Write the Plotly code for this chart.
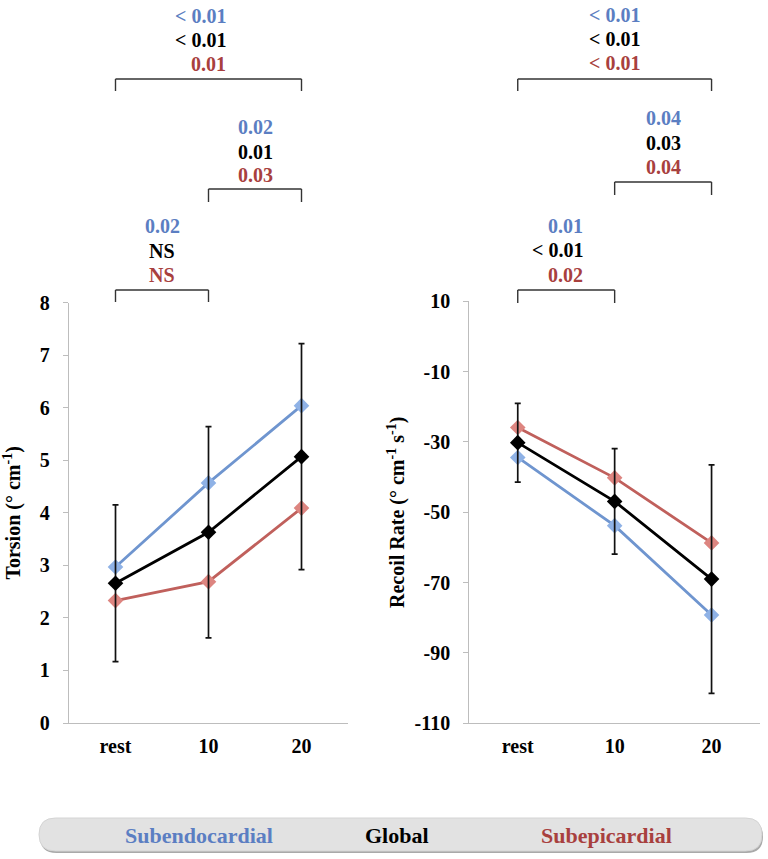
import plotly.graph_objects as go

# ---------------------------------------------------------------------------
# Data
# ---------------------------------------------------------------------------

categories = ["rest", "10", "20"]

torsion_endo = [2.97, 4.57, 6.04]
torsion_global = [2.66, 3.63, 5.07]
torsion_epi = [2.33, 2.69, 4.09]
torsion_global_sd = [1.49, 2.01, 2.15]

recoil_endo = [-34.4, -53.8, -79.2]
recoil_global = [-30.2, -46.9, -69.0]
recoil_epi = [-25.9, -40.2, -58.7]
recoil_global_sd = [11.2, 15.0, 32.5]

recoil_ticks = [10, -10, -30, -50, -70, -90, -110]

# p-values per comparison: [subendocardial, global, subepicardial]
torsion_p_rest_20 = ["< 0.01", "< 0.01", "0.01"]
torsion_p_10_20 = ["0.02", "0.01", "0.03"]
torsion_p_rest_10 = ["0.02", "NS", "NS"]
recoil_p_rest_20 = ["< 0.01", "< 0.01", "< 0.01"]
recoil_p_10_20 = ["0.04", "0.03", "0.04"]
recoil_p_rest_10 = ["0.01", "< 0.01", "0.02"]

legend_labels = ["Subendocardial", "Global", "Subepicardial"]

# ---------------------------------------------------------------------------
# Style
# ---------------------------------------------------------------------------

W, H = 768, 859
FONT = "Liberation Serif, Times New Roman, serif"

BLUE_LINE = "#6f95cf"
BLUE_MARK = "#8fb2e6"
RED_LINE = "#c0605c"
RED_MARK = "#dd8580"
BLUE_TEXT = "#5b7ec2"
RED_TEXT = "#a8403e"
BLACK = "#000000"
AXIS = "#bdbdbd"
TEXT_COLORS = [BLUE_TEXT, BLACK, RED_TEXT]


def px_x(x):
    return x / W


def px_y(y):
    return 1 - y / H


fig = go.Figure()


def add_panel(xa, ya, endo, glob, epi, sd):
    fig.add_trace(go.Scatter(
        x=categories, y=endo, xaxis=xa, yaxis=ya, mode="lines+markers",
        line=dict(color=BLUE_LINE, width=2.8),
        marker=dict(symbol="diamond", size=12, color=BLUE_MARK),
        showlegend=False,
    ))
    fig.add_trace(go.Scatter(
        x=categories, y=epi, xaxis=xa, yaxis=ya, mode="lines+markers",
        line=dict(color=RED_LINE, width=2.8),
        marker=dict(symbol="diamond", size=12, color=RED_MARK),
        showlegend=False,
    ))
    fig.add_trace(go.Scatter(
        x=categories, y=glob, xaxis=xa, yaxis=ya, mode="lines+markers",
        line=dict(color=BLACK, width=2.8),
        marker=dict(symbol="diamond", size=12, color=BLACK),
        error_y=dict(type="data", array=sd, visible=True,
                     color="#111111", thickness=1.7, width=3),
        showlegend=False,
    ))


add_panel("x", "y", torsion_endo, torsion_global, torsion_epi, torsion_global_sd)
add_panel("x2", "y2", recoil_endo, recoil_global, recoil_epi, recoil_global_sd)

tick_font = dict(family=FONT, size=20, color=BLACK, weight="bold")

common_x = dict(
    type="category", range=[-0.5, 2.5], showline=True, linecolor=AXIS,
    linewidth=1.3, ticks="", showgrid=False, zeroline=False,
    tickfont=tick_font, automargin=False, ticklabelstandoff=5,
    fixedrange=True,
)
common_y = dict(
    showline=True, linecolor=AXIS, linewidth=1.3, ticks="outside",
    ticklen=5, tickcolor=AXIS, showgrid=False, zeroline=False,
    tickfont=tick_font, automargin=False, ticklabelstandoff=9,
    fixedrange=True,
)

fig.update_layout(
    width=W, height=H,
    margin=dict(l=0, r=0, t=0, b=0),
    paper_bgcolor="white", plot_bgcolor="white",
    font=dict(family=FONT, color=BLACK),
    xaxis=dict(domain=[px_x(69), px_x(348)], anchor="y", **common_x),
    yaxis=dict(
        domain=[px_y(723), px_y(302.7)], anchor="x", range=[0, 8], dtick=1,
        title=dict(text="Torsion (° cm<sup>-1</sup>)", standoff=14,
                   font=dict(family=FONT, size=20, color=BLACK, weight="bold")),
        **common_y,
    ),
    xaxis2=dict(domain=[px_x(469.3), px_x(760)], anchor="y2", **common_x),
    yaxis2=dict(
        domain=[px_y(723.3), px_y(301.3)], anchor="x2", range=[-110, 10],
        tickmode="array", tickvals=recoil_ticks,
        ticktext=[str(v) for v in recoil_ticks],
        title=dict(text="Recoil Rate (° cm<sup>-1</sup> s<sup>-1</sup>)", standoff=4,
                   font=dict(family=FONT, size=20, color=BLACK, weight="bold")),
        **common_y,
    ),
)

# ---------------------------------------------------------------------------
# Significance brackets with p-values
# ---------------------------------------------------------------------------

BRACKET = dict(color="#333333", width=1.4)


def add_bracket(xref, i0, i1, y_top, y_bot, pvals, y_texts, anchor="center", shift=0):
    for a, b, c, d in [(i0, y_bot, i0, y_top), (i0, y_top, i1, y_top), (i1, y_top, i1, y_bot)]:
        fig.add_shape(type="line", xref=xref, yref="paper",
                      x0=a, y0=px_y(b), x1=c, y1=px_y(d), line=BRACKET)
    mid = (i0 + i1) / 2
    for text, yt, col in zip(pvals, y_texts, TEXT_COLORS):
        fig.add_annotation(
            xref=xref, yref="paper", x=mid, y=px_y(yt), text=text,
            showarrow=False, xanchor=anchor, yanchor="middle", xshift=shift,
            font=dict(family=FONT, size=20, color=col, weight="bold"),
        )


add_bracket("x", 0, 2, 79, 91, torsion_p_rest_20, [16, 40, 64], anchor="right", shift=19)
add_bracket("x", 1, 2, 189, 202, torsion_p_10_20, [127, 152, 175])
add_bracket("x", 0, 1, 290, 302, torsion_p_rest_10, [226, 251, 275])

add_bracket("x2", 0, 2, 79, 91, recoil_p_rest_20, [15, 39, 63])
add_bracket("x2", 1, 2, 182, 195, recoil_p_10_20, [118, 143, 167])
add_bracket("x2", 0, 1, 290, 303, recoil_p_rest_10, [226, 250, 275], anchor="right", shift=19)

# ---------------------------------------------------------------------------
# Legend bar
# ---------------------------------------------------------------------------


def pill_path(x0, y0, x1, y1):
    r = (y1 - y0) / 2
    ym = (y0 + y1) / 2
    pts = [
        f"M{px_x(x0 + r)},{px_y(y0)}",
        f"L{px_x(x1 - r)},{px_y(y0)}",
        f"Q{px_x(x1)},{px_y(y0)} {px_x(x1)},{px_y(ym)}",
        f"Q{px_x(x1)},{px_y(y1)} {px_x(x1 - r)},{px_y(y1)}",
        f"L{px_x(x0 + r)},{px_y(y1)}",
        f"Q{px_x(x0)},{px_y(y1)} {px_x(x0)},{px_y(ym)}",
        f"Q{px_x(x0)},{px_y(y0)} {px_x(x0 + r)},{px_y(y0)}",
        "Z",
    ]
    return " ".join(pts)


fig.add_shape(type="path", xref="paper", yref="paper",
              path=pill_path(40, 820, 763, 853),
              fillcolor="#a9a9a9", line=dict(width=0), layer="below")
fig.add_shape(type="path", xref="paper", yref="paper",
              path=pill_path(39, 818, 762, 851),
              fillcolor="#e2e2e2", line=dict(color="#d4d4d4", width=1), layer="below")

for label, xc, col in zip(legend_labels, [199, 397, 606], TEXT_COLORS):
    fig.add_annotation(
        xref="paper", yref="paper", x=px_x(xc), y=px_y(835), text=label,
        showarrow=False, xanchor="center", yanchor="middle",
        font=dict(family=FONT, size=22, color=col, weight="bold"),
    )

fig.write_html(
    "out.html",
    config=dict(displayModeBar=False),
    post_script="document.body.style.margin='0';document.body.style.overflow='hidden';",
)
